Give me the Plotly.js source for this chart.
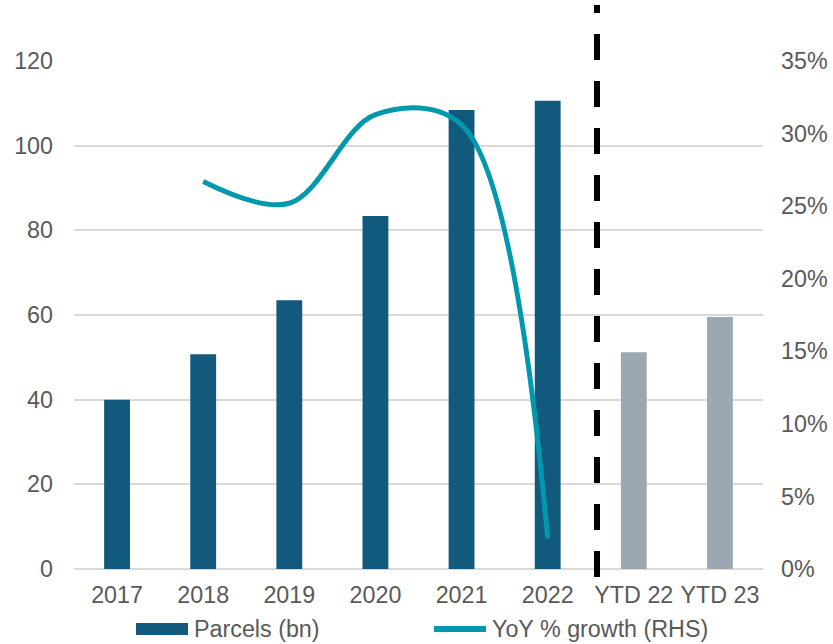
<!DOCTYPE html>
<html>
<head>
<meta charset="utf-8">
<script src="https://cdn.plot.ly/plotly-3.0.1.min.js"></script>
<style>
  html, body { margin: 0; padding: 0; background: #ffffff; }
  #chart { width: 833px; height: 644px; }
</style>
</head>
<body>
<div id="chart"></div>
<script>
// ---- data ----
const categories = ['2017', '2018', '2019', '2020', '2021', '2022', 'YTD 22', 'YTD 23'];
const fullYearCats = ['2017', '2018', '2019', '2020', '2021', '2022'];
const fullYearParcels = [40.0, 50.7, 63.5, 83.4, 108.4, 110.6];
const ytdCats = ['YTD 22', 'YTD 23'];
const ytdParcels = [51.2, 59.5];
const growthCats = ['2018', '2019', '2020', '2021', '2022'];
const growthYoY = [0.267, 0.252, 0.313, 0.306, 0.021];
const leftTicks = [0, 20, 40, 60, 80, 100, 120];
const rightTicks = [0, 0.05, 0.10, 0.15, 0.20, 0.25, 0.30, 0.35];
const legendLabels = ['Parcels (bn)', 'YoY % growth (RHS)'];

// ---- style ----
const FONT = 'Liberation Sans, Arial, sans-serif';
const TXT = '#595959';
const DARK = '#12597e';
const GREY = '#9ca8b1';
const TEAL = '#0098ad';
const GRID = '#d9d9d9';
const FS = 23.3;

const traces = [
  { type: 'bar', x: fullYearCats, y: fullYearParcels, marker: { color: DARK }, width: 0.3, name: legendLabels[0], hoverinfo: 'x+y' },
  { type: 'bar', x: ytdCats, y: ytdParcels, marker: { color: GREY }, width: 0.3, name: 'YTD', hoverinfo: 'x+y' },
  { type: 'scatter', mode: 'lines', x: growthCats, y: growthYoY, yaxis: 'y2',
    line: { color: TEAL, width: 5, shape: 'spline', smoothing: 1 }, name: legendLabels[1] }
];

function px2paperX(px) { return (px - 74) / 689; }
function px2paperY(py) { return (569 - py) / 508; }

const layout = {
  width: 833, height: 644,
  margin: { l: 74, r: 70, t: 61, b: 75, pad: 0 },
  paper_bgcolor: '#ffffff', plot_bgcolor: '#ffffff',
  font: { family: FONT, size: FS, color: TXT },
  showlegend: false,
  barmode: 'overlay',
  xaxis: {
    type: 'category', categoryorder: 'array', categoryarray: categories,
    range: [-0.5, categories.length - 0.5],
    showgrid: false, showline: false, zeroline: false, ticks: '',
    ticklabelstandoff: 10,
    tickfont: { family: FONT, size: FS, color: TXT }, fixedrange: true
  },
  yaxis: {
    range: [0, 120], tickvals: leftTicks, ticktext: leftTicks.map(String),
    showgrid: true, gridcolor: GRID, gridwidth: 2,
    zeroline: true, zerolinecolor: GRID, zerolinewidth: 2,
    showline: false, ticks: '', ticklabelstandoff: 20,
    tickfont: { family: FONT, size: FS, color: TXT }, fixedrange: true
  },
  yaxis2: {
    overlaying: 'y', side: 'right', range: [0, 0.35], tickvals: rightTicks,
    tickformat: '.0%', showgrid: false, zeroline: false, showline: false, ticks: '',
    ticklabelstandoff: 17,
    tickfont: { family: FONT, size: FS, color: TXT }, fixedrange: true
  },
  shapes: [
    { type: 'line', xref: 'paper', yref: 'paper',
      x0: px2paperX(597), x1: px2paperX(597), y0: px2paperY(577), y1: px2paperY(5),
      line: { color: '#000000', width: 6, dash: '26px,21px' } },
    { type: 'rect', xref: 'paper', yref: 'paper',
      x0: px2paperX(136), x1: px2paperX(188), y0: px2paperY(635), y1: px2paperY(623),
      fillcolor: DARK, line: { width: 0 } },
    { type: 'line', xref: 'paper', yref: 'paper',
      x0: px2paperX(434), x1: px2paperX(486), y0: px2paperY(629), y1: px2paperY(629),
      line: { color: TEAL, width: 6 } }
  ],
  annotations: [
    { xref: 'paper', yref: 'paper', x: px2paperX(192), y: px2paperY(629),
      xanchor: 'left', yanchor: 'middle', showarrow: false, text: legendLabels[0],
      font: { family: FONT, size: FS, color: TXT } },
    { xref: 'paper', yref: 'paper', x: px2paperX(490), y: px2paperY(629),
      xanchor: 'left', yanchor: 'middle', showarrow: false, text: legendLabels[1],
      font: { family: FONT, size: FS, color: TXT } }
  ]
};

Plotly.newPlot('chart', traces, layout, { displayModeBar: false, staticPlot: true });
</script>
</body>
</html>
